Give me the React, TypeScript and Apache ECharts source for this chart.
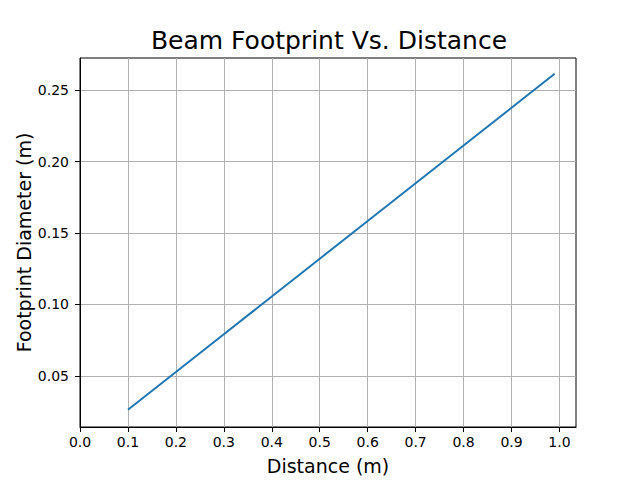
import * as echarts from 'echarts';
import { useEffect, useRef } from 'react';

const distances = [0.1, 0.2, 0.3, 0.4, 0.5, 0.6, 0.7, 0.8, 0.9, 0.99];
const footprints = [0.0264, 0.0528, 0.0792, 0.1056, 0.132, 0.1584, 0.1848, 0.2112, 0.2376, 0.2614];
const xTicks = [0.0, 0.1, 0.2, 0.3, 0.4, 0.5, 0.6, 0.7, 0.8, 0.9, 1.0];
const yTicks = [0.05, 0.1, 0.15, 0.2, 0.25];

const FONT = 'DejaVu Sans';

const App: React.FC = () => {
  const chartRef = useRef<HTMLDivElement | null>(null);

  useEffect(() => {
    if (!chartRef.current) return;
    const chart = echarts.init(chartRef.current, null, { renderer: 'svg' });

    const option: echarts.EChartsOption = {
      animation: false,
      backgroundColor: '#ffffff',
      textStyle: { fontFamily: FONT },
      title: {
        text: 'Beam Footprint Vs. Distance',
        left: 324,
        textAlign: 'center',
        top: 23,
        textStyle: { fontFamily: FONT, fontSize: 25, fontWeight: 'normal', color: '#000' }
      },
      grid: {
        left: 80,
        right: 64,
        top: 58,
        bottom: 53,
        show: true,
        borderColor: '#000',
        borderWidth: 1,
        backgroundColor: 'transparent'
      },
      xAxis: {
        type: 'value',
        min: 0,
        max: 1.0345,
        name: 'Distance (m)',
        nameLocation: 'middle',
        nameGap: 29,
        nameMoveOverlap: false,
        nameTextStyle: { fontFamily: FONT, fontSize: 19, color: '#000' },
        axisLine: { show: true, onZero: false, lineStyle: { color: '#000', width: 1 } },
        axisTick: { show: true, length: 5, customValues: xTicks, lineStyle: { color: '#000' } },
        axisLabel: {
          customValues: xTicks,
          margin: 8,
          fontFamily: FONT,
          fontSize: 14,
          color: '#000',
          formatter: (v: number) => v.toFixed(1)
        },
        splitLine: { show: true, lineStyle: { color: '#b0b0b0', width: 1 } }
      },
      yAxis: {
        type: 'value',
        min: 0.0143,
        max: 0.2724,
        name: 'Footprint Diameter (m)',
        nameLocation: 'middle',
        nameGap: 47,
        nameMoveOverlap: false,
        nameTextStyle: { fontFamily: FONT, fontSize: 19, color: '#000' },
        axisLine: { show: true, onZero: false, lineStyle: { color: '#000', width: 1 } },
        axisTick: { show: true, length: 5, customValues: yTicks, lineStyle: { color: '#000' } },
        axisLabel: {
          customValues: yTicks,
          margin: 11,
          fontFamily: FONT,
          fontSize: 14,
          color: '#000',
          formatter: (v: number) => v.toFixed(2)
        },
        splitLine: { show: true, lineStyle: { color: '#b0b0b0', width: 1 } }
      },
      series: [
        {
          type: 'line',
          data: distances.map((d, i) => [d, footprints[i]]),
          showSymbol: false,
          lineStyle: { color: '#1f77b4', width: 2 },
          itemStyle: { color: '#1f77b4' }
        }
      ]
    };

    chart.setOption(option);
    return () => {
      chart.dispose();
    };
  }, []);

  return (
    <div
      ref={chartRef}
      style={{ position: 'fixed', left: 0, top: 0, width: 640, height: 480 }}
    />
  );
};

export default App;
